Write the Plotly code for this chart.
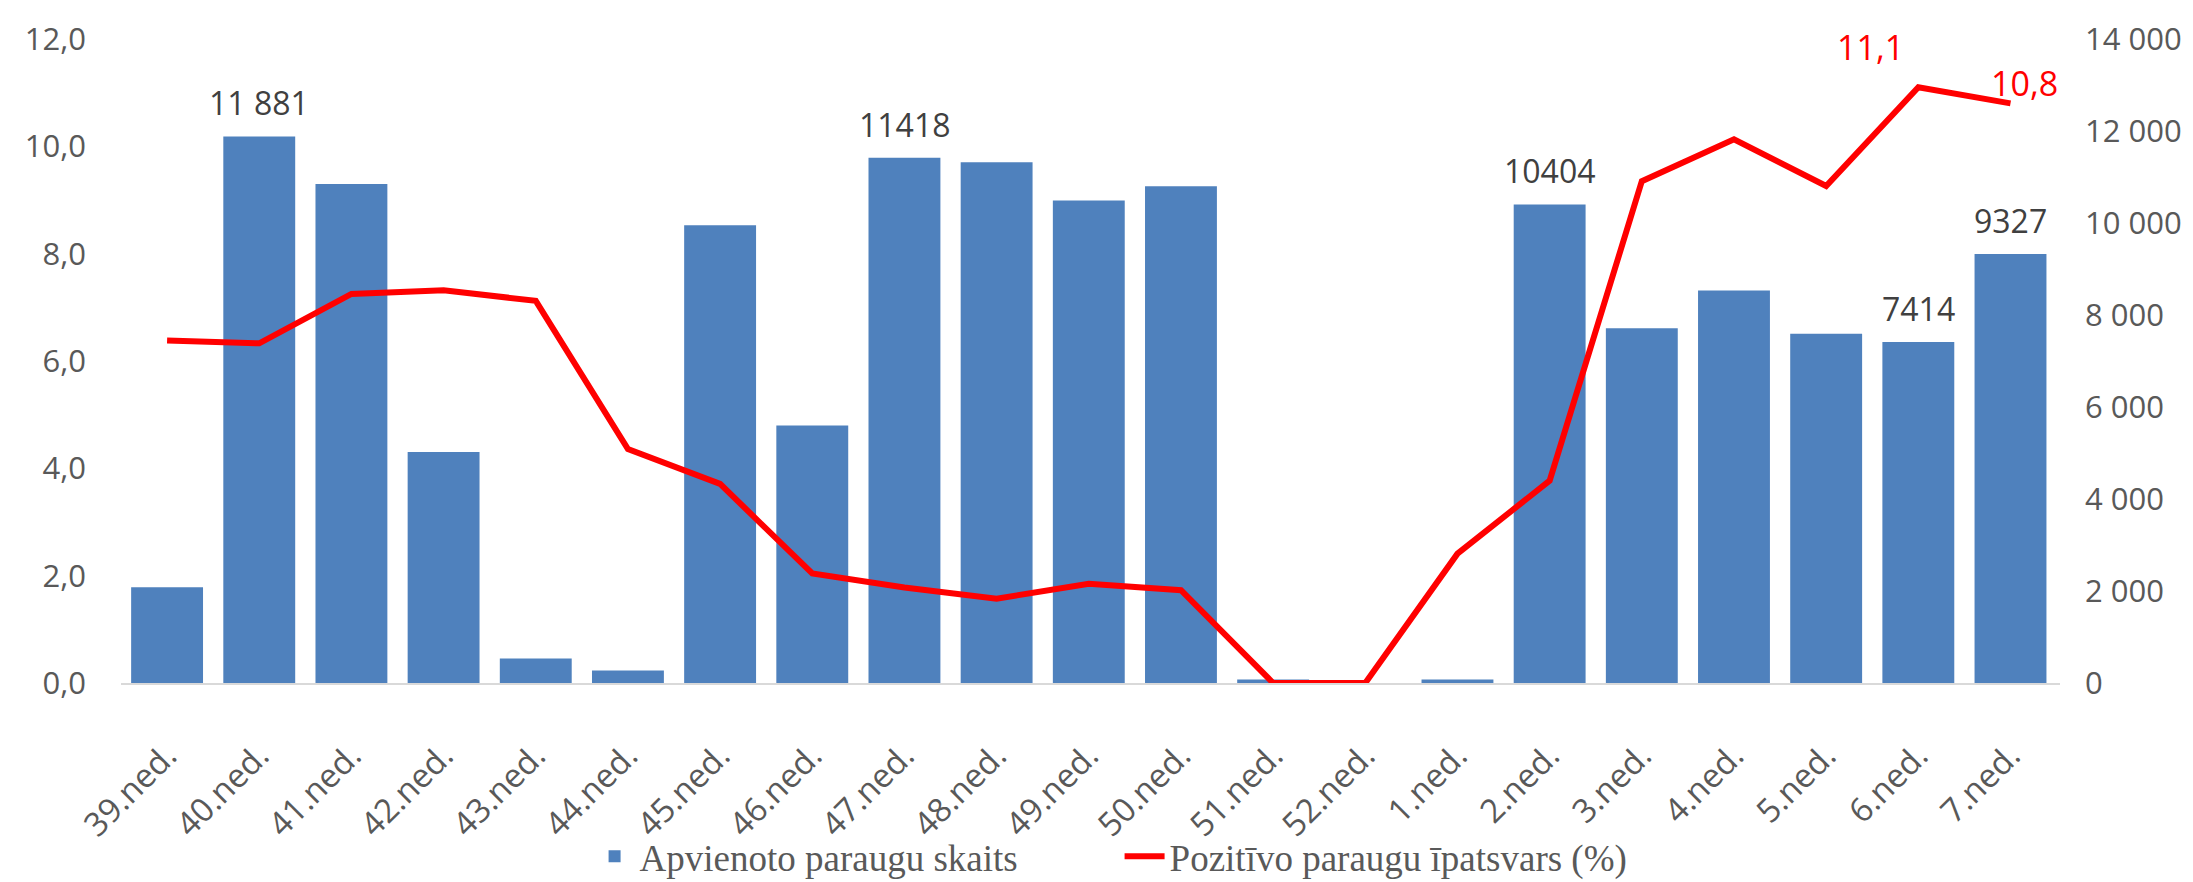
import plotly.graph_objects as go

weeks = ["39.ned.", "40.ned.", "41.ned.", "42.ned.", "43.ned.", "44.ned.", "45.ned.",
         "46.ned.", "47.ned.", "48.ned.", "49.ned.", "50.ned.", "51.ned.", "52.ned.",
         "1.ned.", "2.ned.", "3.ned.", "4.ned.", "5.ned.", "6.ned.", "7.ned."]

samples = [2080, 11881, 10850, 5020, 530, 270, 9950,
           5600, 11418, 11320, 10490, 10800, 75, 0,
           75, 10404, 7710, 8530, 7590, 7414, 9327]

positive_pct = [6.38, 6.33, 7.25, 7.32, 7.12, 4.36, 3.71,
                2.04, 1.78, 1.57, 1.85, 1.73, 0.0, 0.0,
                2.41, 3.77, 9.35, 10.13, 9.26, 11.1, 10.8]

# data labels shown on bars (week -> text)
bar_label_weeks = ["40.ned.", "47.ned.", "2.ned.", "6.ned.", "7.ned."]
bar_label_texts = ["11 881", "11418", "10404", "7414", "9327"]

# data labels shown on the line
line_label_weeks = ["6.ned.", "7.ned."]
line_label_texts = ["11,1", "10,8"]

SANS = "Open Sans, Liberation Sans, sans-serif"
SERIF = "Liberation Serif, Times New Roman, serif"

fig = go.Figure()
fig.add_trace(go.Bar(
    x=weeks, y=samples, name="Apvienoto paraugu skaits",
    marker=dict(color="#4f81bd", line=dict(width=0)),
    yaxis="y", hoverinfo="x+y",
))
fig.add_trace(go.Scatter(
    x=weeks, y=positive_pct, name="Pozitīvo paraugu īpatsvars (%)",
    mode="lines", line=dict(color="#ff0000", width=6),
    yaxis="y2",
))

annotations = []
for w, t in zip(bar_label_weeks, bar_label_texts):
    annotations.append(dict(
        x=w, y=samples[weeks.index(w)], xref="x", yref="y", text=t,
        showarrow=False, yanchor="bottom", yshift=10,
        font=dict(family=SANS, size=32, color="#404040"),
    ))
line_shifts = {"6.ned.": (-48, 40), "7.ned.": (14, 20)}
for w, t in zip(line_label_weeks, line_label_texts):
    dx, dy = line_shifts[w]
    annotations.append(dict(
        x=w, y=positive_pct[weeks.index(w)], xref="x", yref="y2", text=t,
        showarrow=False, yanchor="middle", xanchor="center",
        xshift=dx, yshift=dy,
        font=dict(family=SANS, size=34, color="#ff0000"),
    ))

fig.update_layout(
    width=2193, height=882,
    margin=dict(l=113, r=141, t=31, b=207, autoexpand=False),
    paper_bgcolor="white", plot_bgcolor="white",
    separators=", ",
    bargap=0.22,
    showlegend=True,
    legend=dict(
        orientation="h", x=0.515, xanchor="center", y=-0.318, yanchor="bottom",
        font=dict(family=SERIF, size=37, color="#595959"),
        itemwidth=40, entrywidth=475, entrywidthmode="pixels",
        bgcolor="rgba(0,0,0,0)",
    ),
    xaxis=dict(
        type="category", automargin=False,
        showline=True, linecolor="#d9d9d9", linewidth=2,
        showgrid=False, zeroline=False, ticks="",
        tickangle=-45, ticklabelstandoff=38,
        tickfont=dict(family=SANS, size=33, color="#595959"),
    ),
    yaxis=dict(
        side="right", range=[0, 14000], dtick=2000, tickformat=",.0f",
        automargin=False,
        showgrid=False, zeroline=False, showline=False, ticks="",
        ticklabelstandoff=24,
        tickfont=dict(family=SANS, size=31, color="#595959"),
    ),
    yaxis2=dict(
        overlaying="y", side="left", range=[0, 12], dtick=2, tickformat=".1f",
        automargin=False,
        showgrid=False, zeroline=False, showline=False, ticks="",
        ticklabelstandoff=34,
        tickfont=dict(family=SANS, size=31, color="#595959"),
    ),
    annotations=annotations,
)

fig.write_html("out.html")
